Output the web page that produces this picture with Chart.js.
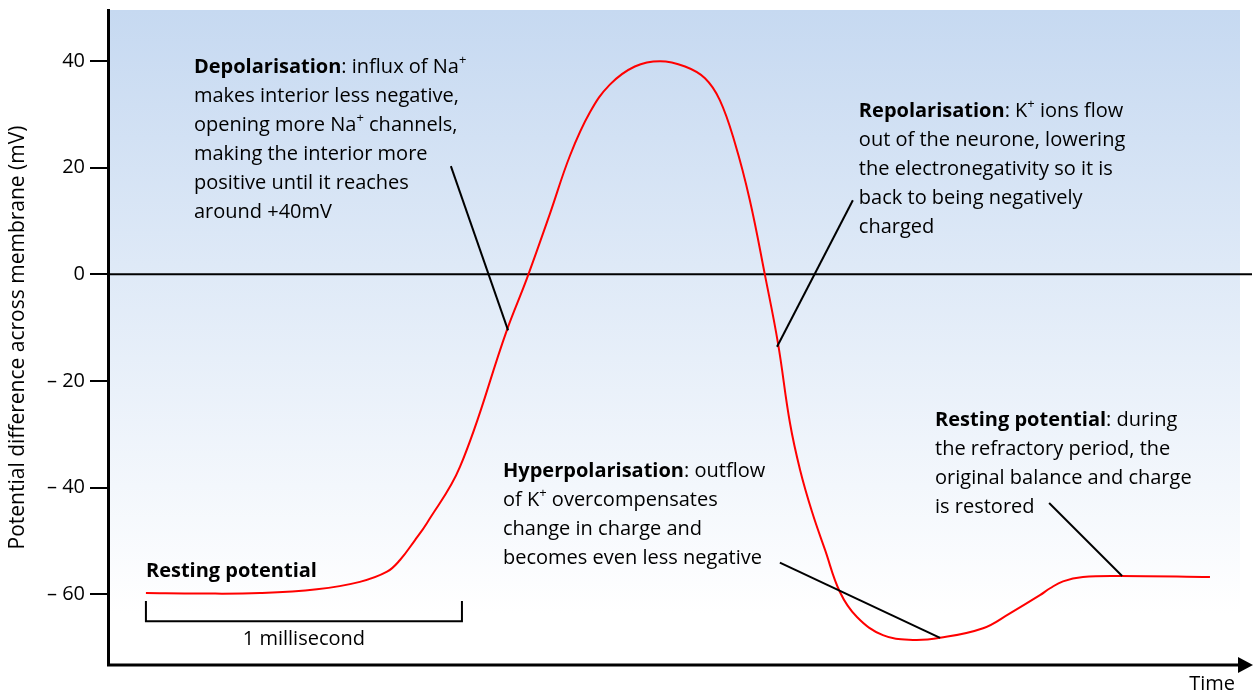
<!DOCTYPE html>
<html>
<head>
<meta charset="utf-8">
<script src="https://cdn.jsdelivr.net/npm/chart.js@4.4.1/dist/chart.umd.min.js"></script>
<style>
  html, body { margin: 0; padding: 0; background: #fff; }
  #wrap { width: 1254px; height: 695px; }
</style>
</head>
<body>
<div id="wrap"><canvas id="apChart" width="1254" height="695"></canvas></div>
<script>
// action potential: time in ms, membrane potential in mV
const timeMs = [0, 0.171, 0.361, 0.541, 0.677, 0.763, 0.804, 0.851, 0.889, 0.994,
  1.142, 1.206, 1.278, 1.342, 1.405, 1.468, 1.547, 1.627, 1.706, 1.769,
  1.816, 1.864, 1.911, 1.959, 2.000, 2.038, 2.070, 2.108, 2.149, 2.196,
  2.250, 2.332, 2.427, 2.513, 2.649, 2.734, 2.829, 2.861, 2.902, 2.965,
  3.082, 3.367];
const membraneMv = [-59.8, -59.9, -59.8, -59.1, -57.7, -55.8, -53.6, -49.9, -46.7, -36.1,
  -10.5, -0.7, 11.3, 22.3, 30.4, 35.6, 39.0, 40.0, 39.0, 36.8,
  32.7, 24.6, 13.9, -0.2, -12.9, -27.9, -36.7, -44.6, -51.7, -59.6,
  -64.3, -67.7, -68.6, -68.2, -66.4, -63.6, -60.2, -58.9, -57.6, -56.8,
  -56.6, -56.8];
const yTicks = [-60, -40, -20, 0, 20, 40];

// annotation texts, ** = bold, ^+ = superscript plus
const depolText = ["**Depolarisation**: influx of Na^+", "makes interior less negative,",
  "opening more Na^+ channels,", "making the interior more",
  "positive until it reaches", "around +40mV"];
const repolText = ["**Repolarisation**: K^+ ions flow", "out of the neurone, lowering",
  "the electronegativity so it is", "back to being negatively", "charged"];
const hyperText = ["**Hyperpolarisation**: outflow", "of K^+ overcompensates",
  "change in charge and", "becomes even less negative"];
const restText = ["**Resting potential**: during", "the refractory period, the",
  "original balance and charge", "is restored"];

// where each note sits (time, mV) and where its pointer goes
const notes = [
  { lines: depolText, at: [0.152, 37.8], from: [0.965, 20.3], to: [1.146, -10.5] },
  { lines: repolText, at: [2.256, 29.5], from: [2.237, 13.9], to: [1.997, -13.6] },
  { lines: hyperText, at: [1.130, -38.0], from: [2.006, -54.1], to: [2.513, -68.2] },
  { lines: restText, at: [2.497, -28.5], from: [2.858, -42.9], to: [3.089, -56.6] },
  { lines: ["**Resting potential**"], at: [0, -56.8] }
];

const FONT = "'Open Sans', Lato, sans-serif";
const TEXT_SIZE = 20;
const LINE_GAP = 29;

function drawRich(ctx, text, x, y, size) {
  const parts = text.split(/(\*\*.+?\*\*|\^\+)/).filter(Boolean);
  let cx = x;
  parts.forEach(p => {
    let str = p, dy = 0;
    ctx.font = `${size}px ${FONT}`;
    if (p.startsWith("**")) {
      str = p.slice(2, -2);
      ctx.font = `bold ${size}px ${FONT}`;
    } else if (p === "^+") {
      str = "+";
      dy = -size * 0.45;
      ctx.font = `${Math.round(size * 0.65)}px ${FONT}`;
    }
    ctx.fillText(str, cx, y + dy);
    cx += ctx.measureText(str).width;
  });
}

const decor = {
  id: "decor",
  beforeDraw(chart) {
    const { ctx, chartArea: a, scales } = chart;
    const fade = scales.y.getPixelForValue(-63.6);
    const g = ctx.createLinearGradient(0, a.top, 0, fade);
    g.addColorStop(0, "#c6d9f1");
    g.addColorStop(1, "#ffffff");
    ctx.save();
    ctx.fillStyle = g;
    ctx.fillRect(a.left, a.top, a.right - 12 - a.left, fade - a.top);
    ctx.restore();
  },
  beforeDatasetsDraw(chart) {
    const { ctx, chartArea: a, scales } = chart;
    const y0 = scales.y.getPixelForValue(0);
    ctx.save();
    ctx.strokeStyle = "#000";
    ctx.lineWidth = 2;
    ctx.beginPath();
    ctx.moveTo(a.left, y0);
    ctx.lineTo(a.right, y0);
    ctx.stroke();
    ctx.restore();
  },
  afterDatasetsDraw(chart) {
    const { ctx, chartArea: a, scales: { x, y } } = chart;
    ctx.save();
    ctx.fillStyle = "#000";
    ctx.strokeStyle = "#000";
    ctx.textBaseline = "alphabetic";

    notes.forEach(n => {
      const tx = x.getPixelForValue(n.at[0]);
      const ty = y.getPixelForValue(n.at[1]);
      n.lines.forEach((line, i) => drawRich(ctx, line, tx, ty + i * LINE_GAP, TEXT_SIZE));
      if (n.from) {
        ctx.lineWidth = 2;
        ctx.beginPath();
        ctx.moveTo(x.getPixelForValue(n.from[0]), y.getPixelForValue(n.from[1]));
        ctx.lineTo(x.getPixelForValue(n.to[0]), y.getPixelForValue(n.to[1]));
        ctx.stroke();
      }
    });

    // 1 ms scale bar
    const x0 = x.getPixelForValue(0), x1 = x.getPixelForValue(1);
    const yb = y.getPixelForValue(-65.1), yt = y.getPixelForValue(-61.3);
    ctx.lineWidth = 2;
    ctx.beginPath();
    ctx.moveTo(x0, yt); ctx.lineTo(x0, yb); ctx.lineTo(x1, yb); ctx.lineTo(x1, yt);
    ctx.stroke();
    ctx.font = `${TEXT_SIZE}px ${FONT}`;
    ctx.textAlign = "center";
    ctx.fillText("1 millisecond", (x0 + x1) / 2, y.getPixelForValue(-69.6));

    // time axis with arrow
    ctx.lineWidth = 3;
    ctx.beginPath();
    ctx.moveTo(a.left - 1, a.bottom);
    ctx.lineTo(a.right - 12, a.bottom);
    ctx.stroke();
    ctx.beginPath();
    ctx.moveTo(a.right - 14, a.bottom - 8);
    ctx.lineTo(a.right + 1, a.bottom);
    ctx.lineTo(a.right - 14, a.bottom + 8);
    ctx.closePath();
    ctx.fill();
    ctx.textAlign = "right";
    ctx.font = `${TEXT_SIZE}px ${FONT}`;
    ctx.fillText("Time", a.right - 17, a.bottom + 25);
    ctx.restore();
  }
};

new Chart(document.getElementById("apChart"), {
  type: "line",
  data: {
    datasets: [{
      data: timeMs.map((t, i) => ({ x: t, y: membraneMv[i] })),
      borderColor: "#ff0000",
      borderWidth: 2,
      pointRadius: 0,
      tension: 0.4,
      fill: false
    }]
  },
  options: {
    responsive: false,
    animation: false,
    layout: { padding: { top: 10, right: 2, left: 0, bottom: 0 } },
    plugins: { legend: { display: false }, tooltip: { enabled: false } },
    scales: {
      x: {
        type: "linear",
        min: -0.12,
        max: 3.5,
        grid: { display: false },
        border: { display: false },
        ticks: { display: false },
        afterFit(scale) { scale.height = 30; }
      },
      y: {
        min: -73.3,
        max: 49.6,
        afterBuildTicks(scale) { scale.ticks = yTicks.map(v => ({ value: v })); },
        afterFit(scale) {
          scale.width = 108;
          scale.paddingTop = 0;
          scale.paddingBottom = 0;
        },
        grid: { drawOnChartArea: false, drawTicks: true, tickLength: 18, color: "#000", lineWidth: 2 },
        border: { display: true, color: "#000", width: 3 },
        ticks: {
          color: "#000",
          padding: 5,
          font: { family: FONT, size: 20 },
          callback: v => v < 0 ? "\u2013 " + Math.abs(v) : String(v)
        },
        title: {
          display: true,
          text: "Potential difference across membrane (mV)",
          color: "#000",
          font: { family: FONT, size: 21 },
          padding: { top: 5, bottom: 0 }
        }
      }
    }
  },
  plugins: [decor]
});
</script>
</body>
</html>
